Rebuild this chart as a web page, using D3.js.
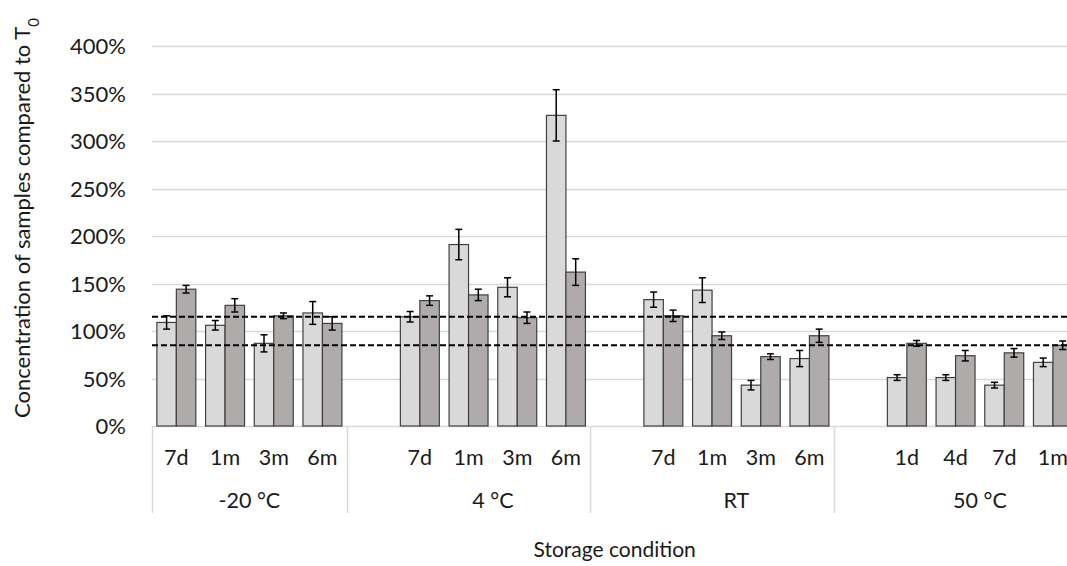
<!DOCTYPE html>
<html>
<head>
<meta charset="utf-8">
<script src="https://cdn.jsdelivr.net/npm/d3@7"></script>
<style>
  body { margin: 0; background: #fff; }
  svg { display: block; font-family: Lato, "Open Sans", sans-serif; }
  .tick-label { font-size: 22px; fill: #1a1a1a; }
  .cat-label { font-size: 21.5px; fill: #1a1a1a; }
  .axis-title { font-size: 21px; fill: #1a1a1a; }
</style>
</head>
<body>
<div id="chart"></div>
<script>
// Data
const conditions = ['-20 °C', '4 °C', 'RT', '50 °C'];
const timepoints = [
  '7d', '1m', '3m', '6m',
  '7d', '1m', '3m', '6m',
  '7d', '1m', '3m', '6m',
  '1d', '4d', '7d', '1m'
];
const seriesLight = [1.09, 1.06, 0.87, 1.19, 1.15, 1.91, 1.46, 3.27, 1.33, 1.43, 0.43, 0.71, 0.51, 0.51, 0.43, 0.67];
const errorLight = [0.07, 0.05, 0.09, 0.12, 0.055, 0.16, 0.10, 0.27, 0.08, 0.13, 0.05, 0.085, 0.03, 0.03, 0.03, 0.045];
const seriesDark = [1.44, 1.27, 1.16, 1.08, 1.32, 1.38, 1.14, 1.62, 1.16, 0.95, 0.73, 0.95, 0.87, 0.74, 0.77, 0.85];
const errorDark = [0.04, 0.07, 0.03, 0.07, 0.05, 0.06, 0.06, 0.14, 0.06, 0.04, 0.03, 0.07, 0.03, 0.055, 0.045, 0.045];
const limitLines = [0.85, 1.15];
const yTicks = [0, 0.5, 1, 1.5, 2, 2.5, 3, 3.5, 4];

const width = 1067;
const height = 566;
const perGroup = 4;
const slotCount = conditions.length * (perGroup + 1) - 1; // blank slot between groups
const slotWidth = 48.7;
const margin = { top: 46, left: 152 };
const plotBottom = 426;
const axisBottom = 513;

const svg = d3.select('#chart').append('svg')
  .attr('width', width)
  .attr('height', height);

// Slots: each group of 4 time points followed by an empty slot
const slots = d3.range(slotCount);
const x = d3.scaleBand()
  .domain(slots)
  .range([margin.left, margin.left + slotCount * slotWidth])
  .padding(0);

const inner = d3.scaleBand()
  .domain(['light', 'dark'])
  .range([0, x.bandwidth()])
  .paddingOuter(0.25)
  .paddingInner(0);

const y = d3.scaleLinear()
  .domain([0, 4])
  .range([plotBottom, margin.top]);

const slotOf = i => Math.floor(i / perGroup) * (perGroup + 1) + (i % perGroup);

// Gridlines
svg.append('g')
  .selectAll('line')
  .data(yTicks)
  .enter().append('line')
  .attr('x1', margin.left)
  .attr('x2', width)
  .attr('y1', d => Math.round(y(d)) + 0.5)
  .attr('y2', d => Math.round(y(d)) + 0.5)
  .style('stroke', '#d9d9d9')
  .style('stroke-width', 1.3);

// Y axis labels
const yAxis = svg.append('g')
  .attr('transform', 'translate(126,0)')
  .call(d3.axisLeft(y).tickValues(yTicks).tickSize(0).tickPadding(0).tickFormat(d3.format('.0%')));
yAxis.select('.domain').remove();
yAxis.attr('font-family', null).attr('font-size', null);
yAxis.selectAll('text')
  .attr('class', 'tick-label')
  .attr('dy', '0.36em');

// Bars
const rows = timepoints.map((t, i) => ({
  i,
  slot: slotOf(i),
  values: [
    { key: 'light', v: seriesLight[i], e: errorLight[i] },
    { key: 'dark', v: seriesDark[i], e: errorDark[i] }
  ]
}));

const fills = { light: '#d9d9d9', dark: '#afabab' };

const barGroups = svg.append('g')
  .selectAll('g')
  .data(rows)
  .enter().append('g')
  .attr('transform', d => `translate(${x(d.slot)},0)`);

barGroups.selectAll('rect')
  .data(d => d.values)
  .enter().append('rect')
  .attr('x', d => inner(d.key))
  .attr('y', d => y(d.v))
  .attr('width', inner.bandwidth())
  .attr('height', d => plotBottom - y(d.v))
  .style('fill', d => fills[d.key])
  .style('stroke', '#404040')
  .style('stroke-width', 1.2);

// Error bars
const err = barGroups.selectAll('g.err')
  .data(d => d.values)
  .enter().append('g')
  .attr('class', 'err')
  .style('stroke', '#000')
  .style('stroke-width', 1.5);

const cx = d => inner(d.key) + inner.bandwidth() / 2;
err.append('line')
  .attr('x1', cx).attr('x2', cx)
  .attr('y1', d => y(d.v + d.e))
  .attr('y2', d => y(d.v - d.e));
err.append('line')
  .attr('x1', d => cx(d) - 3.5).attr('x2', d => cx(d) + 3.5)
  .attr('y1', d => y(d.v + d.e)).attr('y2', d => y(d.v + d.e));
err.append('line')
  .attr('x1', d => cx(d) - 3.5).attr('x2', d => cx(d) + 3.5)
  .attr('y1', d => y(d.v - d.e)).attr('y2', d => y(d.v - d.e));

// Limit lines
svg.append('g')
  .selectAll('line')
  .data(limitLines)
  .enter().append('line')
  .attr('x1', margin.left)
  .attr('x2', width)
  .attr('y1', d => y(d))
  .attr('y2', d => y(d))
  .style('stroke', '#000')
  .style('stroke-width', 2)
  .style('stroke-dasharray', '6,3');

// Category axis: separators at group edges (including blank slots)
const edges = [margin.left];
conditions.forEach((c, g) => {
  const first = g * (perGroup + 1);
  edges.push(x(first + perGroup - 1) + x.bandwidth());
  if (g < conditions.length - 1) edges.push(x(first + perGroup));
});

svg.append('g')
  .selectAll('line')
  .data(edges)
  .enter().append('line')
  .attr('x1', d => Math.round(d) + 0.5)
  .attr('x2', d => Math.round(d) + 0.5)
  .attr('y1', plotBottom)
  .attr('y2', axisBottom)
  .style('stroke', '#d9d9d9')
  .style('stroke-width', 1.3);

svg.append('g')
  .selectAll('text')
  .data(rows)
  .enter().append('text')
  .attr('class', 'cat-label')
  .attr('x', d => x(d.slot) + x.bandwidth() / 2)
  .attr('y', 457)
  .attr('dy', '0.36em')
  .attr('text-anchor', 'middle')
  .text(d => timepoints[d.i]);

svg.append('g')
  .selectAll('text')
  .data(conditions)
  .enter().append('text')
  .attr('class', 'cat-label')
  .attr('x', (d, g) => x(g * (perGroup + 1)) + perGroup * x.bandwidth() / 2)
  .attr('y', 500)
  .attr('dy', '0.36em')
  .attr('text-anchor', 'middle')
  .text(d => d);

// Axis titles
svg.append('text')
  .attr('class', 'axis-title')
  .attr('x', (x.range()[0] + x.range()[1]) / 2)
  .attr('y', 549)
  .attr('dy', '0.36em')
  .attr('text-anchor', 'middle')
  .text('Storage condition');

const yTitle = svg.append('text')
  .attr('class', 'axis-title')
  .style('font-size', '22px')
  .attr('transform', 'translate(22,218) rotate(-90)')
  .attr('dy', '0.36em')
  .attr('text-anchor', 'middle');
yTitle.append('tspan').text('Concentration of samples compared to T');
yTitle.append('tspan')
  .attr('baseline-shift', 'sub')
  .style('font-size', '15px')
  .text('0');
</script>
</body>
</html>
